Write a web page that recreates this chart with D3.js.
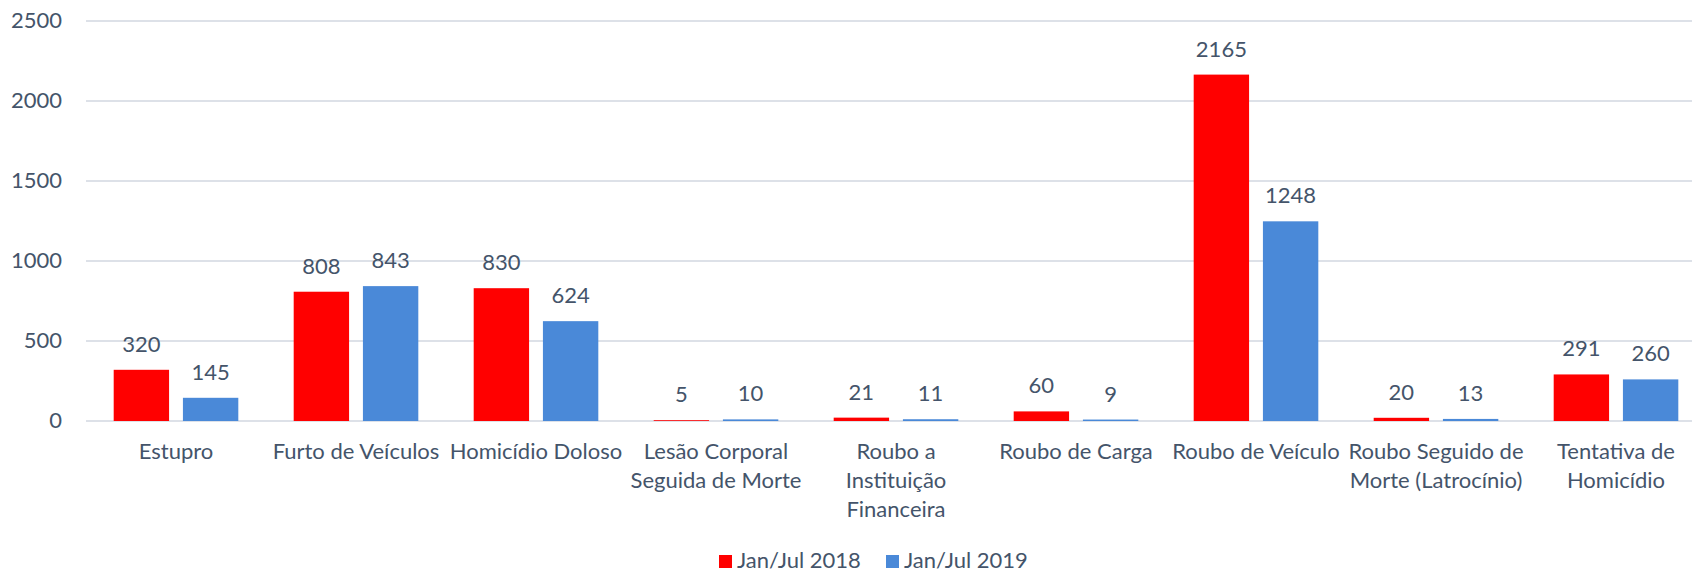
<!DOCTYPE html>
<html>
<head>
<meta charset="utf-8">
<script src="https://cdn.jsdelivr.net/npm/d3@7/dist/d3.min.js"></script>
<style>
  html, body { margin: 0; padding: 0; background: #fff; }
  svg text { font-family: Lato, "Open Sans", sans-serif; fill: #44546A; }
</style>
</head>
<body>
<svg id="chart"></svg>
<script>
// chart data
var categories = ["Estupro", "Furto de Veículos", "Homicídio Doloso", "Lesão Corporal Seguida de Morte",
    "Roubo a Instituição Financeira", "Roubo de Carga", "Roubo de Veículo",
    "Roubo Seguido de Morte (Latrocínio)", "Tentativa de Homicídio"];
// how each category label wraps under the axis
var categoryLines = [["Estupro"], ["Furto de Veículos"], ["Homicídio Doloso"], ["Lesão Corporal", "Seguida de Morte"],
    ["Roubo a", "Instituição", "Financeira"], ["Roubo de Carga"], ["Roubo de Veículo"],
    ["Roubo Seguido de", "Morte (Latrocínio)"], ["Tentativa de", "Homicídio"]];
var seriesNames = ["Jan/Jul 2018", "Jan/Jul 2019"];
var values2018 = [320, 808, 830, 5, 21, 60, 2165, 20, 291];
var values2019 = [145, 843, 624, 10, 11, 9, 1248, 13, 260];
var yTicks = [0, 500, 1000, 1500, 2000, 2500];
var colors = ["#FF0000", "#4A89D8"];

const width = 1692;
const height = 574;
var svg = d3.select("#chart").attr("width", width).attr("height", height);

var x0 = d3.scaleBand().domain(categories).range([86, 1706]).padding(0);
var x1 = d3.scaleBand().domain(seriesNames).range([0, x0.bandwidth()])
    .paddingInner(0.2).paddingOuter(0.4);
var y = d3.scaleLinear().domain([0, 2500]).range([421, 21]);

// gridlines
svg.append("g").selectAll("line")
    .data(yTicks)
    .enter().append("line")
    .attr("x1", 86)
    .attr("x2", width)
    .attr("y1", d => y(d))
    .attr("y2", d => y(d))
    .attr("stroke", "#DDE1E8")
    .attr("stroke-width", 2);

// y tick labels
svg.append("g").selectAll("text")
    .data(yTicks)
    .enter().append("text")
    .attr("x", 62)
    .attr("y", d => y(d) + 7)
    .attr("text-anchor", "end")
    .style("font-size", "22px")
    .text(d => d);

var rows = categories.map(function(c, i) {
    return {cat: c, vals: [values2018[i], values2019[i]]};
});

var groups = svg.append("g").selectAll("g")
    .data(rows)
    .enter().append("g")
    .attr("transform", d => "translate(" + x0(d.cat) + ",0)");

groups.selectAll("rect")
    .data(d => d.vals.map((v, j) => ({s: seriesNames[j], v: v, j: j})))
    .enter().append("rect")
    .attr("x", d => x1(d.s))
    .attr("width", x1.bandwidth())
    .attr("y", d => y(d.v))
    .attr("height", d => y(0) - y(d.v))
    .attr("fill", d => colors[d.j]);

// value labels above each bar
groups.selectAll("text.value")
    .data(d => d.vals.map((v, j) => ({s: seriesNames[j], v: v})))
    .enter().append("text")
    .attr("class", "value")
    .attr("x", d => x1(d.s) + x1.bandwidth() / 2)
    .attr("y", d => y(d.v) - 18)
    .attr("text-anchor", "middle")
    .style("font-size", "22px")
    .text(d => d.v);

// category labels
categories.forEach(function(c, i) {
    var t = svg.append("text")
        .attr("text-anchor", "middle")
        .style("font-size", "22px");
    categoryLines[i].forEach(function(line, k) {
        t.append("tspan")
            .attr("x", x0(c) + x0.bandwidth() / 2)
            .attr("y", 459 + k * 29.2)
            .text(line);
    });
});

// legend
var legend = svg.append("g").selectAll("g")
    .data(seriesNames)
    .enter().append("g")
    .attr("transform", (d, i) => "translate(" + (719 + i * 167) + ",555)");
legend.append("rect")
    .attr("width", 13)
    .attr("height", 13)
    .attr("fill", (d, i) => colors[i]);
legend.append("text")
    .attr("x", 18)
    .attr("y", 13)
    .style("font-size", "22px")
    .text(d => d);
</script>
</body>
</html>
